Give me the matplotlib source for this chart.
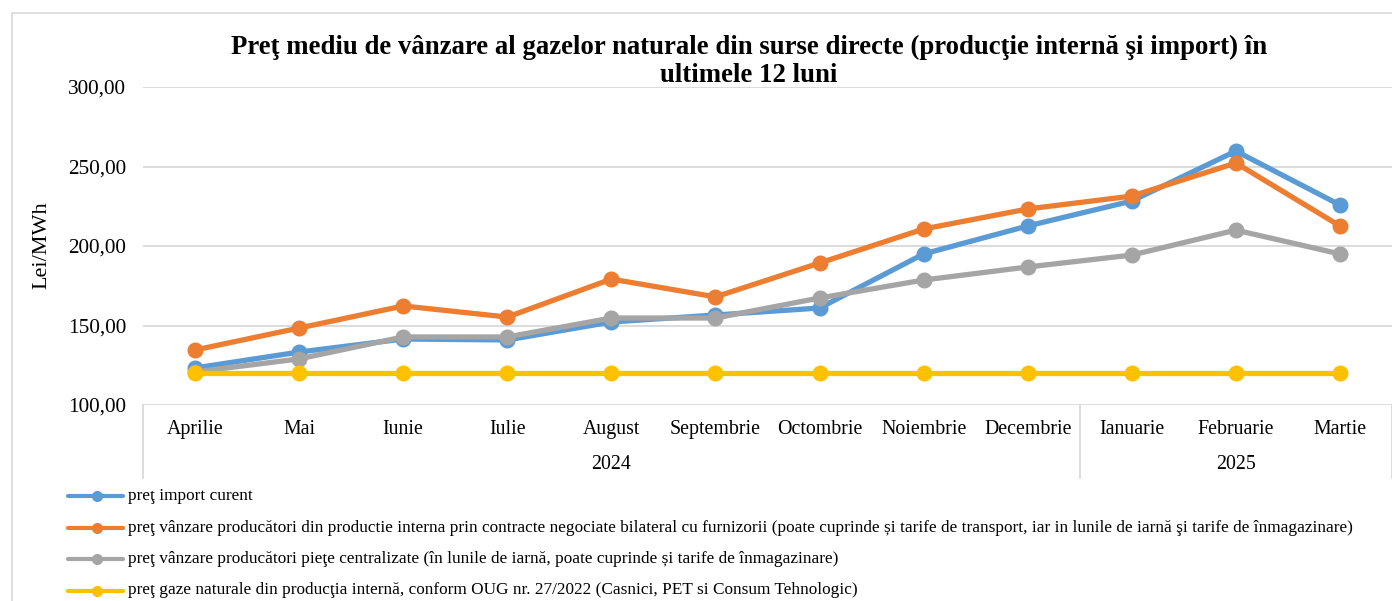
import matplotlib
matplotlib.use("Agg")
import matplotlib.pyplot as plt
from matplotlib.lines import Line2D
from matplotlib.patches import Rectangle
import matplotlib.transforms as mtransforms

plt.rcParams['font.family'] = ['Liberation Serif', 'DejaVu Serif']

months = ["Aprilie", "Mai", "Iunie", "Iulie", "August", "Septembrie", "Octombrie",
          "Noiembrie", "Decembrie", "Ianuarie", "Februarie", "Martie"]
years = ["2024", "2025"]
year_counts = [9, 3]

import_curent = [123.3, 133.3, 141.5, 140.9, 152.2, 156.6, 161.0, 195.0, 212.6, 228.3, 259.7, 225.8]
bilateral = [134.6, 148.4, 162.3, 155.3, 179.2, 168.0, 189.3, 210.7, 223.3, 231.4, 252.2, 212.6]
centralizate = [120.8, 129.0, 142.8, 142.8, 154.7, 154.7, 167.3, 178.6, 186.8, 194.3, 210.0, 195.0]
oug = [120.0] * 12

labels = [
    "preţ import curent",
    "preţ vânzare producători din productie interna prin contracte negociate bilateral cu furnizorii (poate cuprinde și tarife de transport, iar in lunile de iarnă şi tarife de înmagazinare)",
    "preţ vânzare producători pieţe centralizate (în lunile de iarnă, poate cuprinde și tarife de înmagazinare)",
    "preţ gaze naturale din producţia internă, conform OUG nr. 27/2022 (Casnici, PET si Consum Tehnologic)",
]
series = [import_curent, bilateral, centralizate, oug]
colors = ["#5B9BD5", "#ED7D31", "#A5A5A5", "#FFC000"]
title_lines = ["Preţ mediu de vânzare al gazelor naturale din surse directe (producţie internă şi import) în",
               "ultimele 12 luni"]

W, H = 1392, 601
fig = plt.figure(figsize=(W / 100, H / 100), dpi=100)

# chart border
fig.patches.append(Rectangle((12 / W, -0.1), 1.2, (H - 13) / H + 0.1, transform=fig.transFigure,
                             fill=False, edgecolor="#d9d9d9", linewidth=1.2))

ax_l, ax_r, ax_t, ax_b = 143, 1392, 87, 405
ax = fig.add_axes([ax_l / W, 1 - ax_b / H, (ax_r - ax_l) / W, (ax_b - ax_t) / H])

LW, MS = 3.8, 10.5
x = list(range(len(months)))
for s, c, lab in zip(series, colors, labels):
    ax.plot(x, s, color=c, linewidth=LW, marker="o", markersize=MS, label=lab,
            solid_capstyle="round", solid_joinstyle="round", zorder=3)

ax.set_xlim(-0.5, len(months) - 0.5)
ax.set_ylim(100, 300)
yt = [100, 150, 200, 250, 300]
ax.set_yticks(yt)
ax.set_yticklabels([f"{v:.2f}".replace(".", ",") for v in yt], fontsize=15.3)
ax.tick_params(axis="y", length=0, pad=12)
ax.set_xticks([])
for v in yt:
    ax.axhline(v, color="#d9d9d9", linewidth=1.3, zorder=1)
for sp in ax.spines.values():
    sp.set_visible(False)
ax.patch.set_alpha(0)

fig.text(42 / W, 1 - 245 / H, "Lei/MWh", rotation=90, ha="center", va="center", fontsize=16)

# multi-level category axis
trans = mtransforms.blended_transform_factory(ax.transData, ax.transAxes)
ah = ax_b - ax_t
for i, m in enumerate(months):
    ax.text(i, -29 / ah, m, transform=trans, ha="center", va="baseline", fontsize=14.3)
start = 0
bounds = [-0.5]
for yname, cnt in zip(years, year_counts):
    center = start + (cnt - 1) / 2
    ax.text(center, -64 / ah, yname, transform=trans, ha="center", va="baseline", fontsize=14.3)
    start += cnt
    bounds.append(start - 0.5)
for b in bounds:
    ax.add_line(Line2D([b, b], [0, -73 / ah], transform=trans, color="#d9d9d9",
                       linewidth=1.3, clip_on=False))

# title
for k, tl in enumerate(title_lines):
    fig.text(749 / W, 1 - (47 + 28 * k) / H, tl, ha="center", va="center",
             fontsize=19.25, fontweight="bold")

# legend
for i, (c, lab) in enumerate(zip(colors, labels)):
    yy = 1 - (496 + 31.5 * i) / H
    fig.add_artist(Line2D([68 / W, 123 / W], [yy, yy], transform=fig.transFigure, color=c,
                          linewidth=3.0, solid_capstyle="round"))
    fig.add_artist(Line2D([97 / W], [yy], transform=fig.transFigure, color=c, marker="o",
                          markersize=7, linestyle="none"))
    fig.text(128 / W, yy, lab, ha="left", va="center", fontsize=12.4)

fig.savefig("out.png", dpi=100)
